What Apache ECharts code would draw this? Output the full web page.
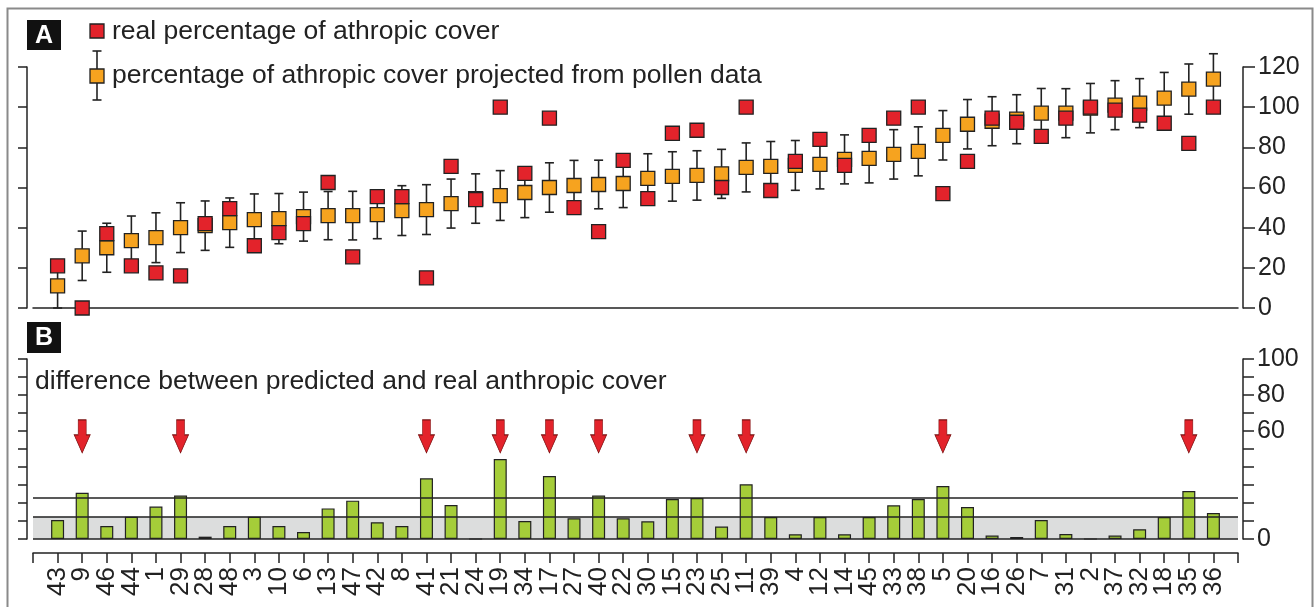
<!DOCTYPE html>
<html>
<head>
<meta charset="utf-8">
<script src="https://cdn.jsdelivr.net/npm/echarts@6/dist/echarts.min.js"></script>
<style>
html,body{margin:0;padding:0;background:#fff;}
#chart{width:1315px;height:607px;}
</style>
</head>
<body>
<div id="chart"></div>
<script>
// ---- data ----
const categories = ['43','9','46','44','1','29','28','48','3','10','6','13','47','42','8','41','21','24','19','34','17','27','40','22','30','15','23','25','11','39','4','12','14','45','33','38','5','20','16','26','7','31','2','37','32','18','35','36'];
const realCover = [21, 0, 37, 21, 17.5, 16, 42, 49.5, 31, 37.5, 42, 62.5, 25.5, 55.5, 55.5, 15, 70.5, 54, 100, 67, 94.5, 50, 38, 73.5, 54.5, 87, 88.5, 60, 100, 58.5, 73, 84, 71, 86, 94.5, 100, 57, 73, 94.5, 92.5, 85.5, 94.5, 100, 98.5, 96, 92, 82, 100];
const predictedCover = [11, 26, 30, 33.5, 35, 40, 41, 42.5, 44, 44.5, 45.5, 46, 46, 46.5, 48.5, 49, 52, 54.5, 56, 57.5, 60, 61, 61.5, 62, 64.5, 65.5, 66, 66.8, 70, 70.5, 71, 71.5, 74, 74.5, 76.5, 78, 86, 91.5, 93, 94, 97, 97, 99.5, 101, 102, 104.5, 109, 114];
const predictedError = [11, 12.3, 12.2, 12.3, 12.4, 12.4, 12.3, 12.3, 12.8, 12.5, 12.2, 12, 12.1, 12, 12.4, 12.4, 12.2, 12.3, 12.4, 12.5, 12.3, 12.5, 12.1, 12, 12.3, 12.3, 12.3, 12.2, 12.2, 12.4, 12.4, 12.2, 12.2, 12.2, 12.3, 12.2, 12.3, 12.3, 12.2, 12.2, 12.3, 12.2, 12.3, 12.2, 12.2, 12.8, 12.5, 12.6];
const difference = [10.5, 25.7, 7.2, 12.4, 18, 24.1, 1.3, 7.2, 12.4, 7.2, 3.9, 17, 21.3, 9.3, 7.2, 33.7, 18.9, 0, 44.4, 10, 35, 11.5, 24.1, 11.5, 9.8, 22.2, 22.8, 6.9, 30.4, 12.2, 2.6, 12.2, 2.6, 12.2, 18.7, 22.2, 29.4, 17.8, 1.9, 1.1, 10.5, 2.8, 0, 1.9, 5.4, 12.2, 26.7, 14.4];
const flaggedCategories = ['9','29','41','19','17','40','23','11','5','35'];
const bandUpper = 12.4;      // shaded band upper limit
const thresholdLine = 23;    // upper threshold line
const arrowLevel = 57;       // level at which flag arrows are placed
const topTicksA = [0, 20, 40, 60, 80, 100, 120];
const labelTicksB = [0, 60, 80, 100];

// ---- build ----
const RED = '#e3232b', ORANGE = '#f6a31f', GREEN = '#a5cd39', INK = '#222';
const FONT = 'Liberation Sans, Arial, sans-serif';
const N = categories.length;
const pos = i => i + 1;

const realData = realCover.map((v, i) => [pos(i), v]);
const predData = predictedCover.map((v, i) => [pos(i), v]);
const errData = predictedCover.map((v, i) => [pos(i), Math.max(0, v - predictedError[i]), v + predictedError[i]]);
const diffData = difference.map((v, i) => [pos(i), v]);
const arrowData = flaggedCategories.map(c => [pos(categories.indexOf(c)), arrowLevel]);

const chart = echarts.init(document.getElementById('chart'), null, {renderer: 'canvas'});

const axisLineStyle = {show: true, onZero: false, lineStyle: {color: INK, width: 1.5}};

const option = {
  animation: false,
  backgroundColor: '#fff',
  grid: [
    {left: 33, right: 77, top: 67, bottom: 299},
    {left: 33, right: 77, top: 359, bottom: 68}
  ],
  xAxis: [
    {gridIndex: 0, type: 'value', min: 0, max: N + 1, interval: 1,
     axisLine: axisLineStyle, axisTick: {show: false}, axisLabel: {show: false}, splitLine: {show: false}},
    {gridIndex: 1, type: 'value', min: 0, max: N + 1, interval: 1, position: 'bottom', offset: 14,
     axisLine: axisLineStyle,
     axisTick: {show: true, inside: false, length: 10, lineStyle: {color: INK, width: 1.5}},
     axisLabel: {show: true, rotate: 90, margin: 14, fontFamily: FONT, fontSize: 26, color: INK,
       formatter: v => (v >= 1 && v <= N) ? categories[v - 1] : ''},
     splitLine: {show: false}}
  ],
  yAxis: [
    {gridIndex: 0, type: 'value', position: 'right', offset: 5, min: 0, max: 120, interval: 20,
     axisLine: axisLineStyle, axisTick: {show: true, length: 12, lineStyle: {color: INK, width: 1.5}},
     axisLabel: {show: true, margin: 15, fontFamily: FONT, fontSize: 25, color: INK,
       formatter: v => topTicksA.includes(v) ? String(v) : ''},
     splitLine: {show: false}},
    {gridIndex: 0, type: 'value', position: 'left', offset: 6, min: 0, max: 120, interval: 20,
     axisLine: axisLineStyle, axisTick: {show: true, length: 9, lineStyle: {color: INK, width: 1.5}},
     axisLabel: {show: false}, splitLine: {show: false}},
    {gridIndex: 1, type: 'value', position: 'right', offset: 5, min: 0, max: 100, interval: 10,
     axisLine: axisLineStyle, axisTick: {show: true, length: 11, lineStyle: {color: INK, width: 1.5}},
     axisLabel: {show: true, margin: 14, fontFamily: FONT, fontSize: 25, color: INK,
       formatter: v => labelTicksB.includes(v) ? String(v) : ''},
     splitLine: {show: false}},
    {gridIndex: 1, type: 'value', position: 'left', offset: 6, min: 0, max: 100, interval: 10,
     axisLine: axisLineStyle, axisTick: {show: true, length: 9, lineStyle: {color: INK, width: 1.5}},
     axisLabel: {show: false}, splitLine: {show: false}}
  ],
  series: [
    {
      type: 'custom', name: 'error', xAxisIndex: 0, yAxisIndex: 0, z: 2,
      data: errData,
      renderItem: function (params, api) {
        const lo = api.coord([api.value(0), api.value(1)]);
        const hi = api.coord([api.value(0), api.value(2)]);
        const cw = 4.5;
        const st = {stroke: INK, lineWidth: 1.6};
        return {type: 'group', children: [
          {type: 'line', shape: {x1: lo[0], y1: lo[1], x2: hi[0], y2: hi[1]}, style: st},
          {type: 'line', shape: {x1: lo[0] - cw, y1: lo[1], x2: lo[0] + cw, y2: lo[1]}, style: st},
          {type: 'line', shape: {x1: hi[0] - cw, y1: hi[1], x2: hi[0] + cw, y2: hi[1]}, style: st}
        ]};
      }
    },
    {
      type: 'scatter', name: 'predicted', xAxisIndex: 0, yAxisIndex: 0, z: 3,
      symbol: 'rect', symbolSize: 14, data: predData,
      itemStyle: {color: ORANGE, borderColor: INK, borderWidth: 1.3, opacity: 1}
    },
    {
      type: 'scatter', name: 'real', xAxisIndex: 0, yAxisIndex: 0, z: 4,
      symbol: 'rect', symbolSize: 14, data: realData,
      itemStyle: {color: RED, borderColor: INK, borderWidth: 1.3, opacity: 1}
    },
    {
      type: 'bar', name: 'difference', xAxisIndex: 1, yAxisIndex: 2, z: 3,
      barWidth: 13, data: diffData,
      itemStyle: {color: GREEN, borderColor: INK, borderWidth: 1.2},
      markArea: {silent: true, itemStyle: {color: '#dcdddd'},
        data: [[{yAxis: 0, xAxis: 0}, {yAxis: bandUpper, xAxis: N + 1}]]},
      markLine: {silent: true, symbol: 'none', label: {show: false},
        lineStyle: {color: INK, width: 1.5, type: 'solid'},
        data: [{yAxis: 0}, {yAxis: bandUpper}, {yAxis: thresholdLine}]}
    },
    {
      type: 'scatter', name: 'flag', xAxisIndex: 1, yAxisIndex: 2, z: 5,
      symbol: 'path://M4,0 L12,0 L12,15 L16,15 L8,33 L0,15 L4,15 Z',
      symbolSize: [16, 33], data: arrowData,
      itemStyle: {color: RED, borderColor: '#7a1010', borderWidth: 0.8, opacity: 1}
    }
  ],
  graphic: [
    {type: 'rect', left: 5, top: 6, shape: {x: 0, y: 0, width: 1305, height: 640},
     style: {fill: 'none', stroke: '#8a8a8a', lineWidth: 2}, silent: true},
    // panel labels
    {type: 'rect', shape: {x: 27, y: 20, width: 34, height: 30}, style: {fill: '#111'}},
    {type: 'text', x: 44, y: 36, style: {text: 'A', fill: '#fff', font: 'bold 25px ' + FONT, textAlign: 'center', textVerticalAlign: 'middle'}},
    {type: 'rect', shape: {x: 27, y: 322, width: 34, height: 31}, style: {fill: '#111'}},
    {type: 'text', x: 44, y: 338, style: {text: 'B', fill: '#fff', font: 'bold 25px ' + FONT, textAlign: 'center', textVerticalAlign: 'middle'}},
    // legend
    {type: 'rect', shape: {x: 90, y: 24, width: 14, height: 14}, style: {fill: RED, stroke: INK, lineWidth: 1.3}},
    {type: 'text', x: 112, y: 32, style: {text: 'real percentage of athropic cover', fill: INK, font: '26.5px ' + FONT, textVerticalAlign: 'middle'}},
    {type: 'line', shape: {x1: 97, y1: 51, x2: 97, y2: 100}, style: {stroke: INK, lineWidth: 1.6}},
    {type: 'line', shape: {x1: 92.5, y1: 51, x2: 101.5, y2: 51}, style: {stroke: INK, lineWidth: 1.6}},
    {type: 'line', shape: {x1: 92.5, y1: 100, x2: 101.5, y2: 100}, style: {stroke: INK, lineWidth: 1.6}},
    {type: 'rect', shape: {x: 90, y: 69, width: 14, height: 14}, style: {fill: ORANGE, stroke: INK, lineWidth: 1.3}},
    {type: 'text', x: 112, y: 76, style: {text: 'percentage of athropic cover projected from pollen data', fill: INK, font: '26.5px ' + FONT, textVerticalAlign: 'middle'}},
    // panel B title
    {type: 'text', x: 35, y: 382, style: {text: 'difference between predicted and real anthropic cover', fill: INK, font: '26.5px ' + FONT, textVerticalAlign: 'middle'}}
  ]
};
chart.setOption(option);
</script>
</body>
</html>
